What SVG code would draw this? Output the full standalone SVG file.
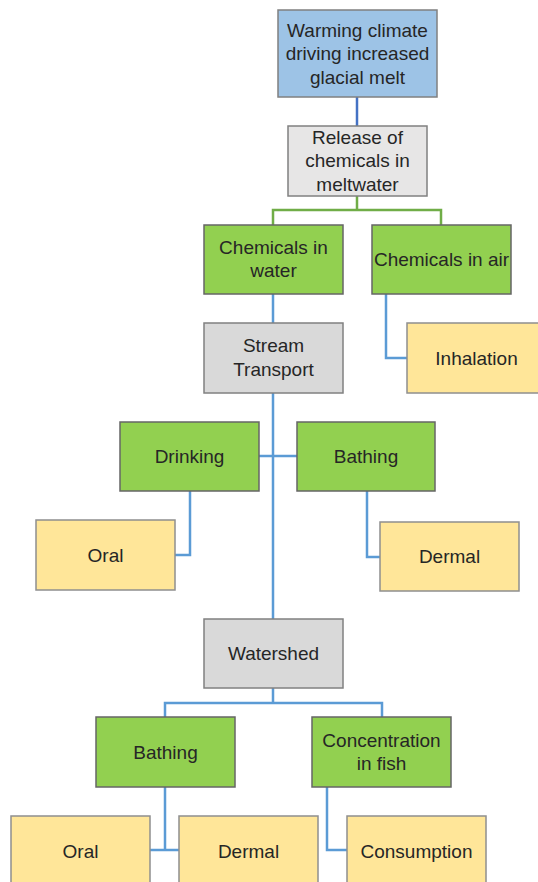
<svg xmlns="http://www.w3.org/2000/svg" width="538" height="882" viewBox="0 0 538 882">
<style>
rect{stroke:#808080;stroke-width:1.5}
.blue{fill:#9DC3E6}
.lgray{fill:#E7E6E6}
.gray{fill:#D9D9D9}
.green{fill:#92D050;stroke:#666}
.yellow{fill:#FFE699;stroke:#8f8f8f}
text{font-family:"Liberation Sans",Arial,sans-serif;font-size:19px;fill:#262626;text-anchor:middle}
.c{fill:none;stroke:#5B9BD5;stroke-width:2.5}
.cd{fill:none;stroke:#4472C4;stroke-width:2.5}
.cg{fill:none;stroke:#70AD47;stroke-width:2.5}
</style>
<rect width="538" height="882" fill="#fff" style="stroke:none"/>
<g id="connectors">
<path class="cd" d="M357,97V126"/>
<path class="cg" d="M357,196V210M273,225V210H441V225"/>
<path class="c" d="M273,294V323"/>
<path class="c" d="M386,294V358H407"/>
<path class="c" d="M273,393V619"/>
<path class="c" d="M259,456H297"/>
<path class="c" d="M190,491V555H175"/>
<path class="c" d="M367,491V557H380"/>
<path class="c" d="M273,688V703M165,717V703H382V717"/>
<path class="c" d="M165,787V850M150,850H179"/>
<path class="c" d="M327,787V850H347"/>
</g>
<g id="n_warming"><rect class="blue" x="278" y="10" width="159" height="87"/><text x="357.5" y="36.5">Warming climate</text><text x="357.5" y="60">driving increased</text><text x="357.5" y="83.5">glacial melt</text></g>
<g id="n_release"><rect class="lgray" x="288" y="126" width="139" height="70"/><text x="357.5" y="143.5">Release of</text><text x="357.5" y="167">chemicals in</text><text x="357.5" y="190.5">meltwater</text></g>
<g id="n_water"><rect class="green" x="204" y="225" width="139" height="69"/><text x="273.5" y="253.5">Chemicals in</text><text x="273.5" y="277">water</text></g>
<g id="n_air"><rect class="green" x="372" y="225" width="139" height="69"/><text x="441.5" y="266">Chemicals in air</text></g>
<g id="n_stream"><rect class="gray" x="204" y="323" width="139" height="70"/><text x="273.5" y="352">Stream</text><text x="273.5" y="375.5">Transport</text></g>
<g id="n_inhalation"><rect class="yellow" x="407" y="323" width="139" height="70"/><text x="476.5" y="364.5">Inhalation</text></g>
<g id="n_drinking"><rect class="green" x="120" y="422" width="139" height="69"/><text x="189.5" y="463">Drinking</text></g>
<g id="n_bathing1"><rect class="green" x="297" y="422" width="138" height="69"/><text x="366" y="463">Bathing</text></g>
<g id="n_oral1"><rect class="yellow" x="36" y="520" width="139" height="70"/><text x="105.5" y="561.5">Oral</text></g>
<g id="n_dermal1"><rect class="yellow" x="380" y="522" width="139" height="69"/><text x="449.5" y="563">Dermal</text></g>
<g id="n_watershed"><rect class="gray" x="204" y="619" width="139" height="69"/><text x="273.5" y="660">Watershed</text></g>
<g id="n_bathing2"><rect class="green" x="96" y="717" width="139" height="70"/><text x="165.5" y="758.5">Bathing</text></g>
<g id="n_fish"><rect class="green" x="312" y="717" width="139" height="70"/><text x="381.5" y="746.5">Concentration</text><text x="381.5" y="770">in fish</text></g>
<g id="n_oral2"><rect class="yellow" x="11" y="816" width="139" height="70"/><text x="80.5" y="857.5">Oral</text></g>
<g id="n_dermal2"><rect class="yellow" x="179" y="816" width="139" height="70"/><text x="248.5" y="857.5">Dermal</text></g>
<g id="n_consumption"><rect class="yellow" x="347" y="816" width="139" height="70"/><text x="416.5" y="857.5">Consumption</text></g>
</svg>
